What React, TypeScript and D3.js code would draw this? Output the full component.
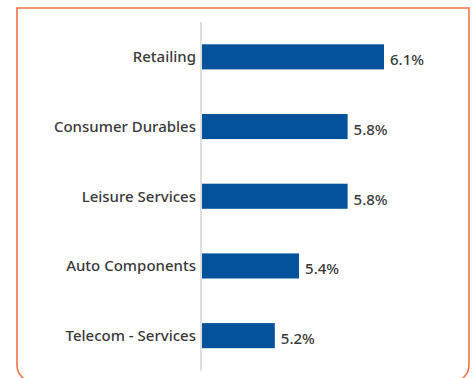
import React from "react";
import * as d3 from "d3";

const categories = ["Retailing", "Consumer Durables", "Leisure Services", "Auto Components", "Telecom - Services"];
const values = [6.1, 5.8, 5.8, 5.4, 5.2];
const valueLabels = ["6.1%", "5.8%", "5.8%", "5.4%", "5.2%"];

const W = 473;
const H = 378;
const axisX = 201;
const FONT = "'Noto Sans', sans-serif";

export default function App() {
  const x = d3.scaleLinear().domain([4.6, 6.1]).range([axisX + 1, 384]);
  const y = d3
    .scaleBand<string>()
    .domain(categories)
    .range([22, 370.5])
    .paddingInner(0.64)
    .paddingOuter(0.32);

  // card outline: square top corners, rounded bottom corners
  const bx0 = 17, by0 = 8, bx1 = 469, by1 = 382, r = 17;
  const border = `M${bx0},${by1 - r} L${bx0},${by0} L${bx1},${by0} L${bx1},${by1 - r} A${r},${r} 0 0 1 ${bx1 - r},${by1} L${bx0 + r},${by1} A${r},${r} 0 0 1 ${bx0},${by1 - r}`;

  return (
    <svg
      width={W}
      height={H}
      style={{ position: "absolute", left: 0, top: 0, background: "#fff" }}
    >
      <path d={border} fill="none" stroke="#ef7446" strokeWidth={1.6} />
      <line x1={axisX} x2={axisX} y1={22} y2={370.5} stroke="#d4d4d4" strokeWidth={1.5} />
      {categories.map((c, i) => {
        const yy = y(c)!;
        const bw = y.bandwidth();
        const xe = x(values[i]);
        return (
          <g key={c}>
            <rect x={x(4.6)} y={yy} width={xe - x(4.6)} height={bw} fill="#04529c" />
            <text
              x={196}
              y={yy + bw / 2}
              dy="0.35em"
              textAnchor="end"
              fontFamily={FONT}
              fontSize={15}
              fontWeight={500}
              fill="#3a3a3a"
            >
              {c}
            </text>
            <text
              x={xe + 6}
              y={yy + bw / 2 + 3}
              dy="0.35em"
              fontFamily={FONT}
              fontSize={15}
              fontWeight={500}
              fill="#3a3a3a"
            >
              {valueLabels[i]}
            </text>
          </g>
        );
      })}
    </svg>
  );
}
